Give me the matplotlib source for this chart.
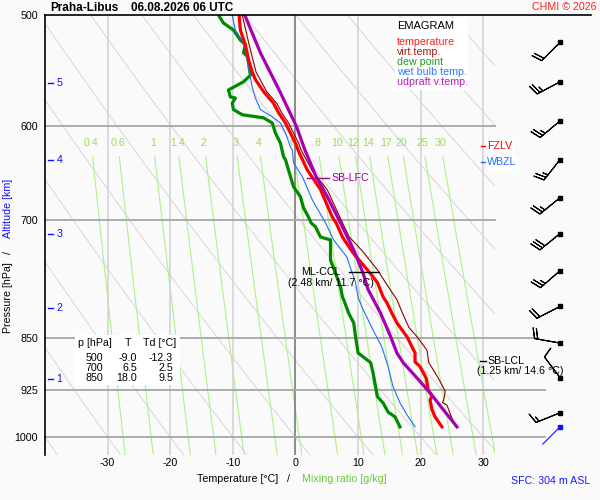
import numpy as np
import matplotlib
matplotlib.use('Agg')
import matplotlib.pyplot as plt
from matplotlib.lines import Line2D
from matplotlib.patches import Rectangle
from matplotlib.ticker import NullLocator

plt.rcParams['font.family'] = ['Liberation Sans', 'DejaVu Sans']
plt.rcParams['axes.unicode_minus'] = False

# --- sounding ---
temp_p = [500, 512.5, 525, 538, 549, 556, 567, 578, 587, 597, 607, 617, 627, 645, 666, 697, 703.5,
          720, 739, 760, 776, 794.5, 802, 816, 829, 848, 871, 884, 891, 908, 926, 935, 941, 956,
          967.5, 983.5]
temp_T = [-9.0, -8.8, -8.0, -7.5, -6.9, -6.4, -5.1, -3.5, -2.7, -1.6, -0.8, 0.0, 0.6, 1.9, 4.0, 5.9, 6.5,
          7.5, 9.2, 11.5, 13.1, 14.0, 14.6, 15.4, 16.2, 17.8, 19.1, 19.1, 19.9, 20.9, 21.2, 21.8, 21.5, 21.8,
          22.3, 23.4]

virt_p = [500, 525, 549, 567, 578, 587, 597, 607, 617, 624, 645, 666.5, 697, 720, 736, 760, 781, 798,
          816, 835, 848, 867, 885, 906, 927, 936, 945, 949, 965, 983.5]
virt_T = [-8.5, -7.4, -6.3, -4.6, -3.0, -2.2, -1.1, -0.3, 0.5, 0.9, 2.6, 5.1, 7.1, 8.6, 10.6, 13.1, 14.8, 16.2,
          17.1, 18.1, 19.4, 21.0, 21.3, 22.7, 23.9, 23.8, 23.5, 24.2, 24.8, 25.6]

dew_p = [500, 506.6, 512.5, 521, 525, 532, 535, 541, 552, 558, 565.5, 572, 573, 578, 584, 589, 592, 597,
         607, 617, 631, 634, 652, 663, 674, 686.5, 697, 703.5, 708, 720, 723.5, 748, 764, 781.5, 794.5,
         798, 816, 829, 848, 871, 885, 900, 921, 936, 945.5, 960, 967.5, 983.5]
dew_T = [-12.3, -11.5, -9.9, -8.8, -8.0, -8.3, -7.7, -7.5, -7.2, -8.3, -10.7, -10.4, -9.6, -10.1, -9.9, -8.5,
         -5.1, -3.7, -3.2, -2.4, -1.9, -1.6, -0.8, -0.3, 0.8, 1.3, 2.1, 2.5, 3.2, 4.0, 5.6, 5.6, 6.4, 7.2, 7.5,
         7.7, 8.5, 9.3, 9.6, 10.0, 12.0, 12.4, 12.8, 13.1, 14.0, 14.8, 15.9, 16.7]

wet_p = [500, 512.5, 523, 538, 554, 563, 573, 584, 591, 597, 607, 621, 624, 637.5, 652, 677.5, 703.5,
         723.5, 744, 776, 794.5, 807.6, 839, 862.5, 891, 921, 945.5, 964, 983.5]
wet_T = [-10.1, -9.6, -8.3, -7.7, -7.2, -6.9, -6.4, -5.6, -3.7, -2.4, -1.6, -0.8, -0.5, -0.3, 1.1, 2.7, 4.8,
         6.1, 8.2, 9.6, 10.0, 10.6, 12.4, 13.8, 14.8, 15.6, 16.7, 17.8, 19.1]

parcel_p = [500, 532, 568, 601, 624, 652, 674, 703.5, 735.5, 764, 785, 816, 848, 871, 885, 907.5, 930,
            956, 983.5]
parcel_T = [-8.1, -5.6, -2.4, 0.2, 1.5, 3.3, 5.1, 7.2, 9.3, 10.8, 11.6, 13.6, 15.2, 16.2, 17.2, 19.4, 21.5,
            23.6, 25.8]

# wind profile
wind_p = [523, 558, 595, 634, 675, 716, 761, 807, 857, 907, 961]
wind_dir = [225, 242, 230, 218, 231, 231, 229, 243, 280, 323, 248]
wind_kt = [20, 25, 25, 25, 25, 30, 25, 20, 20, 10, 15]
sfc_p = 983.5
sfc_dir = 225

# table
tbl_p = [500, 700, 850]
tbl_T = [-9.0, 6.5, 18.0]
tbl_Td = [-12.3, 2.5, 9.5]

# axes stuff
p_ticks = [500, 600, 700, 850, 925, 1000]
t_ticks = [-30, -20, -10, 0, 10, 20, 30]
alt_km = [1, 2, 3, 4, 5]
alt_p = [909, 809, 716, 634, 559]
mix_vals = [0.4, 0.6, 1, 1.4, 2, 3, 4, 6, 8, 10, 12, 14, 17, 20, 25, 30]
mix_labels = ['0.4', '0.6', '1', '1.4', '2', '3', '4', '6', '8', '10', '12', '14', '17', '20', '25', '30']

FS = 7.7
fig = plt.figure(figsize=(6, 5), dpi=100, facecolor='#fafafa')


def px(x, y):
    return x / 600, 1 - y / 500


ax = fig.add_axes([0.075, 0.09, 0.75, 0.88])
ax.set_facecolor('none')
ax.set_yscale('log')
ax.set_ylim(1030, 500)
ax.set_xlim(-40, 31.87)

# dry adiabats
pp = np.linspace(500, 1030, 200)
for th in np.arange(233.15, 384, 10):
    ax.plot(th * (pp / 1000) ** 0.286 - 273.15, pp, color='#d6d6d6', lw=0.7, zorder=1)

# isotherms
for t in t_ticks:
    ax.axvline(t, color='#7a7a7a' if t == 0 else '#d4d4d4', lw=1.2, zorder=1.5)


# mixing ratio lines
def t_mix(w, p):
    e = w * p / (622.0 + w)
    a = np.log(e / 6.112)
    return 243.5 * a / (17.67 - a)


pm = np.linspace(631, 1030, 60)
for w, lab in zip(mix_vals, mix_labels):
    ax.plot(t_mix(w, pm), pm, color='#acf286', lw=0.8, zorder=1.2)
    ax.text(t_mix(w, 617), 617, lab, color='#9bdc55', fontsize=FS, ha='center', va='center', zorder=2)

# pressure lines
tr = ax.get_yaxis_transform()
for p, xe in zip([600, 700, 850, 925, 1000], [1.0, 1.0, 1.095, 1.111, 1.111]):
    ax.plot([0, xe], [p, p], transform=tr, color='#a6a6a6', lw=1.3, clip_on=False, zorder=2)

# profiles
ax.plot(dew_T, dew_p, color='#008a00', lw=2.3, zorder=5)
ax.plot(wet_T, wet_p, color='#1f6fff', lw=0.8, zorder=5)
ax.plot(temp_T, temp_p, color='#ff0000', lw=2.3, zorder=6)
ax.plot(virt_T, virt_p, color='#8b0000', lw=0.8, zorder=6)
ax.plot(parcel_T, parcel_p, color='#a600b0', lw=2.3, zorder=7)

# levels
ax.plot([1.9, 5.3], [653, 653], color='#a000a0', lw=1, zorder=8)
ax.text(5.7, 653, 'SB-LFC', color='#a000a0', fontsize=FS, va='center', ha='left', zorder=8)
ax.plot([8.5, 13.3], [762, 762], color='k', lw=1, zorder=8)
ax.text(4.0, 762, 'ML-CCL', fontsize=FS, va='center', ha='center', zorder=8)
ax.text(5.7, 776, '(2.48 km/ 11.7 °C)', fontsize=FS, va='center', ha='center', zorder=8)
ax.plot([29.5, 30.4], [882, 882], color='k', lw=1, zorder=8, clip_on=False)
ax.text(30.6, 882, 'SB-LCL', fontsize=FS, va='center', ha='left', zorder=8, clip_on=False)
ax.text(29.0, 897, '(1.25 km/ 14.6 °C)', fontsize=FS, va='center', ha='left', zorder=8, clip_on=False)
ax.plot([29.7, 30.5], [620, 620], color='#ff0000', lw=1, zorder=8, clip_on=False)
ax.text(30.6, 620, 'FZLV', color='#ff0000', fontsize=FS, va='center', ha='left', zorder=8, clip_on=False,
        bbox=dict(fc='white', ec='none', pad=1))
ax.plot([29.7, 30.5], [637, 637], color='#1f6fff', lw=1, zorder=8, clip_on=False)
ax.text(30.6, 637, 'WBZL', color='#1f6fff', fontsize=FS, va='center', ha='left', zorder=8, clip_on=False,
        bbox=dict(fc='white', ec='none', pad=1))

# altitude marks
for km, p in zip(alt_km, alt_p):
    ax.plot([0.007, 0.018], [p, p], transform=tr, color='#1010ff', lw=1, zorder=3)
    ax.text(0.026, p, str(km), transform=tr, color='#1010ff', fontsize=FS, va='center', ha='left')

ax.set_yticks(p_ticks, [str(p) for p in p_ticks])
ax.yaxis.set_minor_locator(NullLocator())
ax.set_xticks(t_ticks, [str(t) for t in t_ticks])
ax.tick_params(length=0, labelsize=FS)
ax.tick_params(axis='y', pad=5)
ax.tick_params(axis='x', pad=2)
for s in ['top', 'right', 'bottom']:
    ax.spines[s].set_visible(False)
ax.spines['left'].set_linewidth(1.2)
fig.add_artist(Line2D([45 / 600, 591 / 600], [0.97, 0.97], color='k', lw=1.2))

# winds
ax_w = fig.add_axes([0.825, 0.09, 0.175, 0.88])
ax_w.axis('off')
ax_w.set_yscale('log')
ax_w.set_ylim(1030, 500)
ax_w.set_xlim(0, 1)
wd = np.radians(wind_dir)
u = -np.array(wind_kt) * np.sin(wd)
v = -np.array(wind_kt) * np.cos(wd)
wx = np.full(len(wind_p), 0.619)
ax_w.barbs(wx, wind_p, u, v, length=6.1, pivot='tip', lw=0.8, color='k')
ax_w.plot(wx, wind_p, 's', ms=2.4, color='k')
sd = np.radians(sfc_dir)
ax_w.quiver([0.619], [sfc_p], [np.sin(sd)], [np.cos(sd)], pivot='tail', color='#1010ff',
            scale_units='inches', scale=4, units='dots', width=1.1, headwidth=1, headlength=0,
            headaxislength=0)
ax_w.plot([0.619], [sfc_p], 's', ms=2.4, color='#1010ff')

# texts around
fig.text(*px(50, 8), 'Praha-Libus', fontsize=8.5, weight='bold', va='center')
fig.text(*px(131, 8), '06.08.2026 06 UTC', fontsize=8.5, weight='bold', va='center')
fig.text(*px(596, 7), 'CHMI © 2026', fontsize=FS, color='#ff2020', va='center', ha='right')

fig.add_artist(Rectangle(px(395, 90), 73 / 600, 72 / 500, transform=fig.transFigure, fc='white', ec='none'))
fig.text(*px(397, 26), 'EMAGRAM', fontsize=8, va='center')
leg = [('temperature', '#ff2020'), ('virt.temp.', '#a01818'), ('dew point', '#229922'),
       ('wet bulb temp.', '#2f78ff'), ('udpraft v.temp.', '#b020c0')]
for i, (name, c) in enumerate(leg):
    fig.text(*px(397, 42 + 10 * i), name, fontsize=FS, color=c, va='center')

fig.add_artist(Rectangle(px(75, 385), 105 / 600, 50 / 500, transform=fig.transFigure, fc='white', ec='none'))
fig.text(*px(78, 343), 'p [hPa]', fontsize=FS, va='center')
fig.text(*px(128, 343), 'T', fontsize=FS, va='center', ha='center')
fig.text(*px(143, 343), 'Td [°C]', fontsize=FS, va='center')
for i, (p, t, td) in enumerate(zip(tbl_p, tbl_T, tbl_Td)):
    y = 358 + 10 * i
    fig.text(*px(94, y), str(p), fontsize=FS, va='center', ha='center')
    fig.text(*px(137, y), f'{t:.1f}', fontsize=FS, va='center', ha='right')
    fig.text(*px(173, y), f'{td:.1f}', fontsize=FS, va='center', ha='right')

fig.text(*px(8, 298), 'Pressure [hPa]', fontsize=FS, rotation=90, va='center', ha='center')
fig.text(*px(8, 253), '/', fontsize=FS, rotation=90, va='center', ha='center')
fig.text(*px(8, 208), 'Altitude [km]', fontsize=FS, rotation=90, va='center', ha='center', color='#1010ff')
fig.text(*px(197, 479), 'Temperature [°C]', fontsize=FS, va='center')
fig.text(*px(287, 479), '/', fontsize=FS, va='center')
fig.text(*px(302, 479), 'Mixing ratio [g/kg]', fontsize=FS, va='center', color='#66cc33')
fig.text(*px(590, 481), 'SFC: 304 m ASL', fontsize=FS, va='center', ha='right', color='#1a1aff')

fig.savefig('out.png', dpi=100, facecolor=fig.get_facecolor())
